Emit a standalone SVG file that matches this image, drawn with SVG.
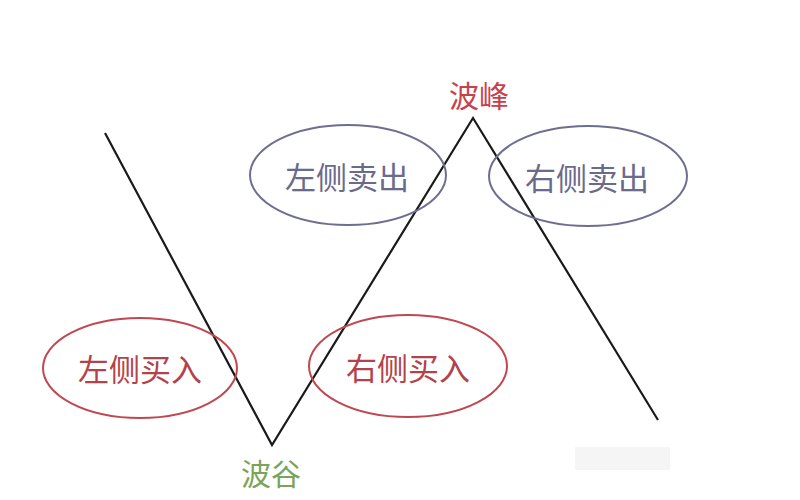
<svg xmlns="http://www.w3.org/2000/svg" width="800" height="500" viewBox="0 0 800 500">
<style>
text{font-family:"Noto Sans CJK SC","Noto Sans",sans-serif;text-anchor:middle}
.sell ellipse{fill:none;stroke:#6e6e90;stroke-width:2}
.sell text{fill:#6a6a8a;font-size:31px}
.buy ellipse{fill:none;stroke:#c0474f;stroke-width:2}
.buy text{fill:#b4424a;font-size:31px}
.wave{fill:none;stroke:#1a1a1a;stroke-width:2.2;stroke-linejoin:miter}
</style>
<rect width="800" height="500" fill="#ffffff"/>
<rect x="575" y="447" width="95" height="23" fill="#f5f5f5"/>
<g id="connectors">
<polyline class="wave" points="105,133 272,445 473,118 658,420"/>
</g>
<g id="peak"><text x="479" y="107" font-size="30" fill="#c8414a">波峰</text></g>
<g id="trough"><text x="271" y="485" font-size="30" fill="#7aa45a">波谷</text></g>
<g id="left-sell" class="sell"><ellipse cx="348" cy="175" rx="98" ry="50"/><text x="347" y="189">左侧卖出</text></g>
<g id="right-sell" class="sell"><ellipse cx="588" cy="176" rx="99" ry="50"/><text x="587" y="190">右侧卖出</text></g>
<g id="left-buy" class="buy"><ellipse cx="140" cy="368" rx="97" ry="50"/><text x="140" y="381">左侧买入</text></g>
<g id="right-buy" class="buy"><ellipse cx="408" cy="366" rx="99" ry="51"/><text x="408" y="380">右侧买入</text></g>
</svg>
